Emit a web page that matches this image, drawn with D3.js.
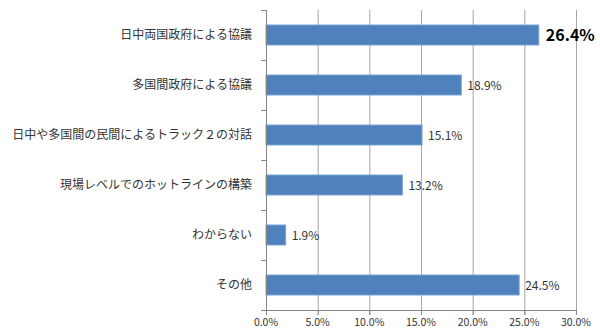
<!DOCTYPE html>
<html><head><meta charset="utf-8">
<script src="https://cdn.jsdelivr.net/npm/d3@7/dist/d3.min.js"></script>
<style>body{margin:0;background:#fff;}svg{display:block;}</style>
</head><body>
<svg id="c" width="600" height="335"></svg>
<script>
const categories = ["日中両国政府による協議","多国間政府による協議","日中や多国間の民間によるトラック２の対話","現場レベルでのホットラインの構築","わからない","その他"];
const values = [26.4, 18.9, 15.1, 13.2, 1.9, 24.5];
const ticks = [0,5,10,15,20,25,30];

const svg = d3.select("#c");
const font = "'Noto Sans CJK JP','Noto Sans',sans-serif";
const x = d3.scaleLinear().domain([0,30]).range([266,576]);
const y = d3.scaleBand().domain(categories).range([10,310]).paddingInner(0.6).paddingOuter(0.3);
const yb = d3.scaleBand().domain(categories).range([10,310]);
const maxV = d3.max(values);

// gridlines
svg.append("g").selectAll("line").data(ticks.slice(1)).join("line")
  .attr("x1",d=>x(d)+0.5).attr("x2",d=>x(d)+0.5).attr("y1",10).attr("y2",315)
  .attr("stroke","#a6a6a6").attr("stroke-width",1);

// bars
svg.append("g").selectAll("rect").data(values).join("rect")
  .attr("x",x(0)).attr("y",(d,i)=>y(categories[i]))
  .attr("width",d=>x(d)-x(0)).attr("height",y.bandwidth())
  .attr("fill","#4f81bd").attr("stroke","#7da3d3").attr("stroke-width",1);

// left axis
const ya = svg.append("g");
ya.append("line").attr("x1",266.5).attr("x2",266.5).attr("y1",10).attr("y2",310).attr("stroke","#868686");
ya.selectAll("line.t").data(d3.range(categories.length+1)).join("line").attr("class","t")
  .attr("x1",261).attr("x2",266).attr("y1",i=>10+i*yb.step()+0.5).attr("y2",i=>10+i*yb.step()+0.5).attr("stroke","#868686");
ya.selectAll("text").data(categories).join("text")
  .attr("x",252).attr("y",d=>yb(d)+yb.bandwidth()/2).attr("dy","0.35em")
  .attr("text-anchor","end").attr("font-family",font).attr("font-size",12).attr("fill","#333").text(d=>d);

// bottom axis
const xa = svg.append("g");
xa.append("line").attr("x1",261).attr("x2",576).attr("y1",310.5).attr("y2",310.5).attr("stroke","#868686");
xa.selectAll("line.t").data(ticks).join("line").attr("class","t")
  .attr("x1",d=>x(d)+0.5).attr("x2",d=>x(d)+0.5).attr("y1",310).attr("y2",315).attr("stroke","#868686");
xa.selectAll("text").data(ticks).join("text")
  .attr("x",d=>x(d)).attr("y",326).attr("text-anchor","middle")
  .attr("font-family",font).attr("font-size",10.5).attr("fill","#333").text(d=>d.toFixed(1)+"%");

// value labels
svg.append("g").selectAll("text").data(values).join("text")
  .attr("x",d=>x(d)+(d===maxV?7:6)).attr("y",(d,i)=>y(categories[i])+y.bandwidth()/2).attr("dy","0.38em")
  .attr("font-family",font).attr("font-size",d=>d===maxV?16:12)
  .attr("font-weight",d=>d===maxV?"bold":"normal")
  .attr("fill",d=>d===maxV?"#000":"#333").text(d=>d.toFixed(1)+"%");
</script>
</body></html>
